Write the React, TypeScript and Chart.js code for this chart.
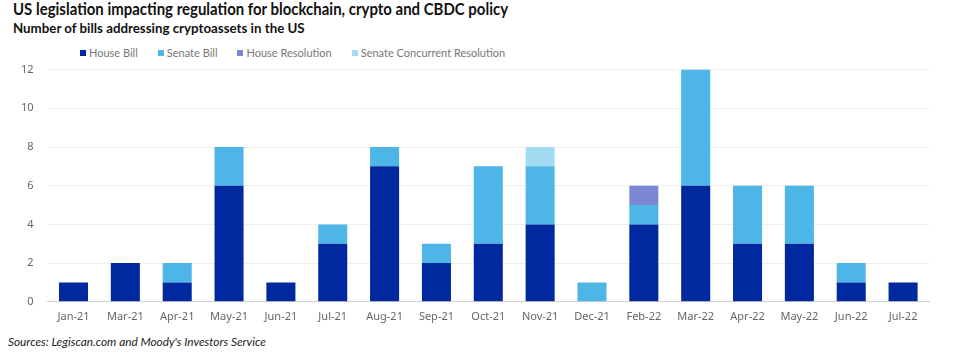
import React, { useEffect, useRef } from "react";
import { Chart, registerables } from "chart.js";

Chart.register(...registerables);

const categories = ["Jan-21","Mar-21","Apr-21","May-21","Jun-21","Jul-21","Aug-21","Sep-21","Oct-21","Nov-21","Dec-21","Feb-22","Mar-22","Apr-22","May-22","Jun-22","Jul-22"];
const houseBill = [1,2,1,6,1,3,7,2,3,4,0,4,6,3,3,1,1];
const senateBill = [0,0,1,2,0,1,1,1,4,3,1,1,6,3,3,1,0];
const houseResolution = [0,0,0,0,0,0,0,0,0,0,0,1,0,0,0,0,0];
const senateConcurrent = [0,0,0,0,0,0,0,0,0,1,0,0,0,0,0,0,0];
const yTicks = [0,2,4,6,8,10,12];

const seriesNames = ["House Bill","Senate Bill","House Resolution","Senate Concurrent Resolution"];
const seriesColors = ["#0029A0","#4DB6E7","#7C88D4","#A3DBF3"];
const FONT = "'Noto Sans', sans-serif";
const LATO = "Lato, sans-serif";

export default function App() {
  const ref = useRef<HTMLCanvasElement>(null);
  useEffect(() => {
    if (!ref.current) return;
    const series = [houseBill, senateBill, houseResolution, senateConcurrent];
    const chart = new Chart(ref.current, {
      type: "bar",
      data: {
        labels: categories,
        datasets: series.map((d, i) => ({
          label: seriesNames[i],
          data: d.map((v) => (v === 0 ? null : v)),
          backgroundColor: seriesColors[i],
          borderWidth: 0,
          categoryPercentage: 1,
          barPercentage: 0.56,
        })),
      },
      options: {
        animation: false,
        responsive: false,
        maintainAspectRatio: false,
        layout: { padding: { top: 8, right: 24, left: 7, bottom: 0 } },
        plugins: { legend: { display: false }, tooltip: { enabled: false } },
        scales: {
          x: {
            stacked: true,
            grid: { display: false, drawTicks: false },
            border: { color: "#cfcfcf", width: 1 },
            ticks: { color: "#666", font: { family: FONT, size: 11 }, padding: 8, maxRotation: 0, autoSkip: false },
          },
          y: {
            stacked: true,
            min: 0,
            max: 12,
            afterBuildTicks: (axis: any) => { axis.ticks = yTicks.map((v) => ({ value: v })); },
            grid: { color: "#eeeeee", drawTicks: false },
            border: { display: false },
            ticks: { color: "#666", font: { family: FONT, size: 11 }, padding: 14 },
          },
        },
      },
    });
    return () => chart.destroy();
  }, []);

  return (
    <div style={{ position: "fixed", left: 0, top: 0, width: 953, height: 359, background: "#fff", fontFamily: LATO, overflow: "hidden" }}>
      <div style={{ position: "absolute", left: 13, top: -2, fontSize: 17, fontWeight: 700, color: "#111", whiteSpace: "nowrap", transform: "scaleX(0.88)", transformOrigin: "left top" }}>
        US legislation impacting regulation for blockchain, crypto and CBDC policy
      </div>
      <div style={{ position: "absolute", left: 13, top: 19, fontSize: 14, fontWeight: 700, color: "#111", whiteSpace: "nowrap", transform: "scaleX(0.95)", transformOrigin: "left top" }}>
        Number of bills addressing cryptoassets in the US
      </div>
      <div style={{ position: "absolute", left: 80, top: 46, display: "flex", gap: 20, fontSize: 11, color: "#777", whiteSpace: "nowrap" }}>
        {seriesNames.map((n, i) => (
          <div key={n} style={{ display: "flex", alignItems: "center" }}>
            <span style={{ display: "inline-block", width: 6, height: 6, background: seriesColors[i], marginRight: 3 }} />
            {n}
          </div>
        ))}
      </div>
      <canvas ref={ref} width={953} height={282} style={{ position: "absolute", left: 0, top: 49, width: 953, height: 282 }} />
      <div style={{ position: "absolute", left: 8, top: 334, fontSize: 11.8, fontStyle: "italic", color: "#222", whiteSpace: "nowrap" }}>
        Sources: Legiscan.com and Moody's Investors Service
      </div>
    </div>
  );
}
